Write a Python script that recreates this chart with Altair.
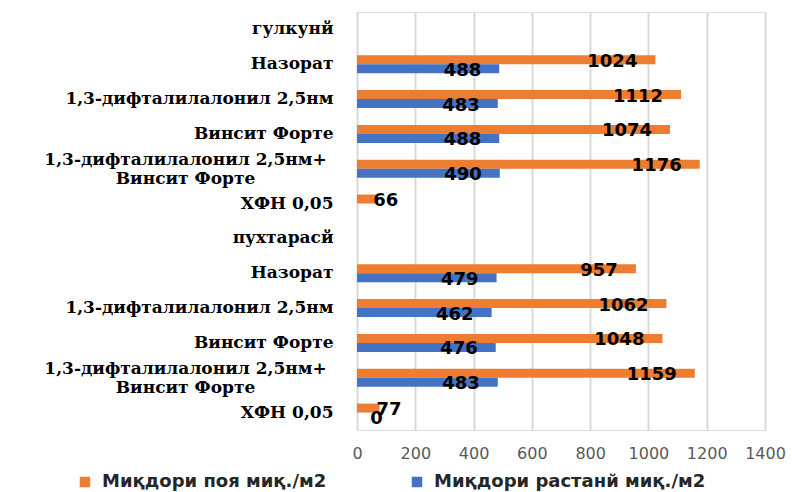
import altair as alt
import pandas as pd

# Row labels, top to bottom ("|" marks a line break inside a label)
rows = [
    "гулкунй",
    "Назорат",
    "1,3-дифталилалонил 2,5нм",
    "Винсит Форте",
    "1,3-дифталилалонил 2,5нм+|Винсит Форте",
    "ХФН 0,05",
    "пухтарасй",
    "Назорат",
    "1,3-дифталилалонил 2,5нм",
    "Винсит Форте",
    "1,3-дифталилалонил 2,5нм+|Винсит Форте",
    "ХФН 0,05",
]

series_names = ["Миқдори поя  миқ./м2", "Миқдори растанй миқ./м2"]
series_colors = ["#ED7D31", "#4472C4"]

# Values per row (None = no bar)
poya = [None, 1024, 1112, 1074, 1176, 66, None, 957, 1062, 1048, 1159, 77]
rastani = [None, 488, 483, 488, 490, None, None, 479, 462, 476, 483, 0]

x_ticks = [0, 200, 400, 600, 800, 1000, 1200, 1400]

# Unique row keys: two-digit index + label
keys = [f"{i:02d}·{r}" for i, r in enumerate(rows)]

records = []
for k, a, b in zip(keys, poya, rastani):
    if a is not None:
        records.append({"row": k, "series": series_names[0], "value": a})
    if b is not None:
        records.append({"row": k, "series": series_names[1], "value": b})
df = pd.DataFrame(records)

is_two_line = "indexof(datum.value, '|') >= 0"

y_enc = alt.Y(
    "row:N",
    scale=alt.Scale(domain=keys, paddingInner=0.48, paddingOuter=0.24),
    axis=alt.Axis(
        title=None,
        domain=False,
        ticks=False,
        tickSize=0,
        labelExpr="split(slice(datum.label, 3), '|')",
        labelFont="DejaVu Serif",
        labelFontWeight="bold",
        labelFontSize=17,
        labelColor="#000000",
        labelLineHeight=19,
        labelAlign={
            "condition": {"test": is_two_line, "value": "center"},
            "value": "right",
        },
        labelPadding={
            "condition": {"test": is_two_line, "value": 172},
            "value": 24,
        },
        labelOffset={
            "condition": {"test": is_two_line, "value": -9},
            "value": 0,
        },
        labelLimit=400,
    ),
)

y_off = alt.YOffset(
    "series:N",
    scale=alt.Scale(domain=series_names, paddingInner=0, paddingOuter=0),
)

x_enc = alt.X(
    "value:Q",
    scale=alt.Scale(domain=[0, 1400], nice=False),
    axis=alt.Axis(
        title=None,
        values=x_ticks,
        format="d",
        labelOverlap=False,
        labelFlush=False,
        domain=False,
        ticks=False,
        grid=True,
        gridColor="#d9d9d9",
        gridWidth=2,
        labelFont="DejaVu Sans",
        labelFontSize=16,
        labelColor="#595959",
        labelPadding=15,
    ),
)

color_enc = alt.Color(
    "series:N",
    scale=alt.Scale(domain=series_names, range=series_colors),
    legend=alt.Legend(
        title=None,
        orient="none",
        legendX=-281,
        legendY=461,
        direction="horizontal",
        columns=2,
        columnPadding=75,
        symbolType="square",
        symbolSize=110,
        symbolStrokeWidth=0,
        labelFont="DejaVu Sans",
        labelFontWeight="bold",
        labelFontSize=18,
        labelColor="#262626",
        labelOffset=8,
        labelLimit=400,
    ),
)

base = alt.Chart(df)

bars = base.mark_bar(size=9).encode(
    y=y_enc,
    yOffset=y_off,
    x=x_enc,
    color=color_enc,
)

label_style = dict(
    font="DejaVu Sans",
    fontWeight="bold",
    fontSize=18,
    color="#000000",
    baseline="middle",
    dy=2,
)

big_labels = (
    base.transform_filter("datum.value >= 200")
    .mark_text(align="right", dx=-18, **label_style)
    .encode(y=alt.Y("row:N"), yOffset=alt.YOffset("series:N"), x=alt.X("value:Q"), text="value:Q")
)

small_labels = (
    base.transform_filter("datum.value < 200")
    .transform_calculate(pos="max(datum.value, 56)")
    .mark_text(align="left", dx=-3, **label_style)
    .encode(y=alt.Y("row:N"), yOffset=alt.YOffset("series:N"), x=alt.X("pos:Q"), text="value:Q")
)

chart = (
    alt.layer(bars, big_labels, small_labels)
    .properties(
        width=408,
        height=418,
        autosize=alt.AutoSizeParams(type="none"),
        padding={"left": 357, "top": 12, "right": 27, "bottom": 62},
    )
    .configure_view(stroke=None)
    .configure(background="#ffffff")
)

chart.save("out.html", embed_options={"renderer": "svg", "actions": False})
